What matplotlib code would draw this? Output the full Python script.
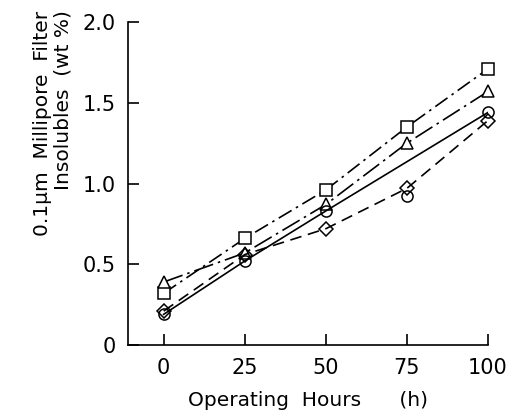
import matplotlib
matplotlib.use("Agg")
import matplotlib.pyplot as plt

# operating hours and insolubles (wt%)
hours = [0, 25, 50, 75, 100]
square = [0.32, 0.66, 0.96, 1.35, 1.71]
triangle = [0.39, 0.57, 0.87, 1.25, 1.57]
circle = [0.19, 0.52, 0.83, 0.92, 1.44]
diamond = [0.21, 0.56, 0.72, 0.97, 1.39]
# the solid line in the original skips the circle at 75 h
circle_line_idx = [0, 1, 2, 4]

xticks = [0, 25, 50, 75, 100]
xticklabels = ["0", "25", "50", "75", "100"]
yticks = [0, 0.5, 1.0, 1.5, 2.0]
yticklabels = ["0", "0.5", "1.0", "1.5", "2.0"]

plt.rcParams['font.family'] = ['DejaVu Sans']

fig = plt.figure(figsize=(5.09, 4.18), dpi=100)
ax = fig.add_axes([128/509, 1 - 345/418, (488-128)/509, (345-22)/418])

mk = dict(color='black', mfc='white', mec='black', mew=1.1, ms=8, lw=1.2,
          clip_on=False)

ax.plot(hours, square, marker='s', dashes=(9, 3, 1.5, 3), **mk)
ax.plot(hours, triangle, marker='^', dashes=(12, 3, 1.5, 3), **mk)
ax.plot([hours[i] for i in circle_line_idx], [circle[i] for i in circle_line_idx],
        color='black', lw=1.2)
ax.plot(hours, circle, marker='o', ls='none', color='black', mfc='none',
        mec='black', mew=1.1, ms=8, clip_on=False)
ax.plot(hours, diamond, marker='D', dashes=(7, 4), color='black', mfc='none',
        mec='black', mew=1.1, ms=7, lw=1.2, clip_on=False)

ax.set_xlim(-11, 100)
ax.set_ylim(0, 2.0)
ax.spines['top'].set_visible(False)
ax.spines['right'].set_visible(False)
ax.spines['left'].set_linewidth(1.2)
ax.spines['bottom'].set_linewidth(1.2)

ax.set_xticks(xticks)
ax.set_xticklabels(xticklabels)
ax.set_yticks(yticks)
ax.set_yticklabels(yticklabels)
ax.tick_params(direction='in', length=8, width=1.2, labelsize=15, pad=9)

ax.set_xlabel("Operating  Hours      (h)", fontsize=14.5, labelpad=10)
fig.text(0.104, 0.975, "0.1\u03bcm  Millipore  Filter\nInsolubles  (wt %)",
         rotation=90, ha='center', va='top', multialignment='right',
         fontsize=14.5, linespacing=1.1)

fig.savefig("out.png", dpi=100)
